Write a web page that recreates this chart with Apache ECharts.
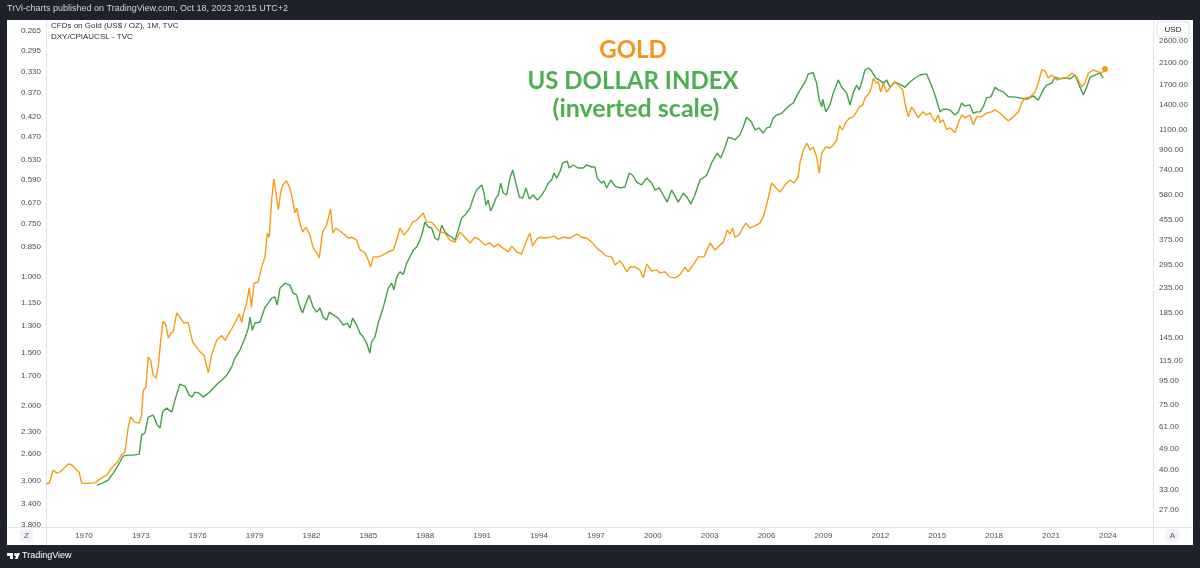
<!DOCTYPE html>
<html><head><meta charset="utf-8">
<script src="https://cdn.jsdelivr.net/npm/echarts@6/dist/echarts.min.js"></script>
<style>html,body{margin:0;padding:0;background:#1e222d;}#c{width:1200px;height:568px;}</style>
</head><body><div id="c"></div>
<script>
// ---- tick labels ----
const yearTicks = [1970,1973,1976,1979,1982,1985,1988,1991,1994,1997,2000,2003,2006,2009,2012,2015,2018,2021,2024];
const ratioTicks = [0.265,0.295,0.330,0.370,0.420,0.470,0.530,0.590,0.670,0.750,0.850,1.000,1.150,1.300,1.500,1.700,2.000,2.300,2.600,3.000,3.400,3.800];
const goldTicks = [2600,2100,1700,1400,1100,900,740,580,455,375,295,235,185,145,115,95,75,61,49,40,33,27];

// ---- Gold (USD/oz), [decimal year, price] ----
const goldSeries = [
[1968.00,35.0],[1968.17,35.0],[1968.38,39.9],[1968.56,38.7],[1968.73,39.1],[1968.91,40.3],[1969.17,42.3],[1969.35,42.0],[1969.62,39.9],[1969.75,39.1],
[1969.88,35.1],[1970.14,35.0],[1970.32,35.1],[1970.58,35.2],[1970.84,36.5],[1971.20,38.0],[1971.46,40.7],[1971.72,42.7],[1971.99,46.2],[1972.16,47.5],
[1972.34,60.6],[1972.46,66.8],[1972.69,63.6],[1972.92,63.0],[1973.04,68.1],[1973.13,86.8],[1973.27,89.4],[1973.39,120],[1973.52,116],[1973.65,100.5],
[1973.80,97.6],[1973.92,109],[1974.05,141],[1974.18,170],[1974.32,164],[1974.45,144],[1974.57,151],[1974.71,153],[1974.89,184],[1975.06,177],
[1975.27,167],[1975.50,168],[1975.73,139],[1975.94,132],[1976.12,126],[1976.33,122],[1976.56,103],[1976.73,122],[1977.00,141],[1977.26,148],
[1977.44,141],[1977.70,153],[1977.96,167],[1978.19,182],[1978.32,168],[1978.44,186],[1978.58,203],[1978.72,235],[1978.84,195],[1978.97,246],
[1979.19,249],[1979.37,288],[1979.55,318],[1979.67,401],[1979.77,385],[1979.90,553],[1980.02,679],[1980.13,592],[1980.25,502],[1980.37,592],
[1980.48,640],[1980.69,666],[1980.86,622],[1981.01,553],[1981.13,488],[1981.22,512],[1981.39,442],[1981.53,405],[1981.71,425],[1981.92,393],
[1982.09,347],[1982.27,331],[1982.41,315],[1982.59,405],[1982.80,434],[1983.01,507],[1983.12,401],[1983.29,421],[1983.50,409],[1983.77,393],
[1983.94,382],[1984.12,385],[1984.38,374],[1984.56,340],[1984.82,331],[1984.99,309],[1985.12,288],[1985.26,318],[1985.52,318],[1985.79,324],
[1986.05,334],[1986.31,340],[1986.49,374],[1986.67,421],[1986.88,393],[1987.10,413],[1987.34,446],[1987.55,455],[1987.89,488],[1988.07,446],
[1988.34,446],[1988.60,421],[1988.78,405],[1989.04,401],[1989.30,374],[1989.57,367],[1989.83,405],[1990.09,385],[1990.36,364],[1990.62,385],
[1990.89,374],[1991.15,357],[1991.41,364],[1991.62,350],[1991.83,360],[1992.08,347],[1992.38,334],[1992.56,353],[1992.82,334],[1993.08,327],
[1993.35,374],[1993.52,401],[1993.66,353],[1993.88,378],[1994.05,385],[1994.31,382],[1994.58,385],[1994.79,389],[1995.01,378],[1995.28,385],
[1995.63,382],[1995.99,397],[1996.25,385],[1996.51,382],[1996.78,367],[1997.04,347],[1997.30,334],[1997.53,321],[1997.83,318],[1998.01,294],
[1998.27,306],[1998.43,294],[1998.62,275],[1998.80,288],[1999.06,288],[1999.32,280],[1999.50,259],[1999.68,297],[1999.94,277],[2000.20,280],
[2000.38,272],[2000.64,275],[2000.91,261],[2001.17,259],[2001.43,267],[2001.70,288],[2001.87,275],[2002.13,294],[2002.40,318],[2002.70,318],
[2003.02,364],[2003.28,340],[2003.49,353],[2003.72,367],[2003.93,413],[2004.07,397],[2004.21,421],[2004.33,385],[2004.54,393],[2004.77,425],
[2004.91,442],[2005.12,421],[2005.39,430],[2005.65,442],[2005.83,469],[2006.09,564],[2006.27,653],[2006.50,622],[2006.71,598],[2006.97,640],
[2007.24,672],[2007.45,653],[2007.67,692],[2007.76,793],[2007.94,900],[2008.12,964],[2008.29,900],[2008.46,927],[2008.64,841],[2008.78,719],
[2008.91,875],[2009.13,927],[2009.34,918],[2009.52,945],[2009.70,992],[2009.84,1140],[2010.01,1097],[2010.19,1185],[2010.40,1231],[2010.57,1243],
[2010.75,1305],[2010.89,1369],[2011.07,1395],[2011.19,1494],[2011.42,1568],[2011.54,1663],[2011.63,1814],[2011.77,1729],[2011.89,1746],[2012.02,1584],
[2012.16,1729],[2012.33,1584],[2012.55,1663],[2012.72,1746],[2012.95,1695],[2013.18,1615],[2013.30,1423],[2013.47,1243],[2013.65,1369],[2013.83,1305],
[2014.00,1231],[2014.23,1305],[2014.44,1267],[2014.62,1291],[2014.88,1185],[2015.06,1267],[2015.15,1173],[2015.30,1208],[2015.50,1097],[2015.67,1118],
[2015.94,1065],[2016.11,1173],[2016.29,1267],[2016.46,1231],[2016.73,1267],[2016.90,1151],[2017.08,1243],[2017.34,1243],[2017.61,1291],[2017.87,1305],
[2018.05,1330],[2018.31,1291],[2018.57,1231],[2018.75,1196],[2019.01,1243],[2019.28,1305],[2019.45,1423],[2019.63,1494],[2019.89,1508],[2020.16,1584],
[2020.33,1729],[2020.51,1962],[2020.69,1944],[2020.86,1814],[2021.04,1868],[2021.30,1780],[2021.57,1814],[2021.83,1814],[2022.10,1905],[2022.36,1832],
[2022.62,1663],[2022.79,1729],[2022.97,1905],[2023.23,1962],[2023.50,1924],[2023.67,1905],[2023.85,1981]
];

// ---- DXY / CPIAUCSL ratio, [decimal year, ratio] (plotted on inverted scale) ----
const ratioSeries = [
[1970.70,3.071],[1971.00,3.035],[1971.28,2.989],[1971.55,2.878],[1971.81,2.757],[1972.07,2.626],[1972.32,2.612],[1972.60,2.612],[1972.92,2.598],[1973.04,2.345],
[1973.22,2.317],[1973.39,2.128],[1973.65,2.105],[1973.87,2.222],[1974.01,2.258],[1974.15,2.071],[1974.36,2.027],[1974.63,2.071],[1974.80,1.942],[1975.06,1.781],
[1975.33,1.800],[1975.55,1.890],[1975.70,1.910],[1975.85,1.859],[1976.07,1.870],[1976.29,1.910],[1976.56,1.870],[1976.82,1.820],[1977.08,1.771],[1977.28,1.741],
[1977.53,1.697],[1977.79,1.625],[1977.96,1.548],[1978.23,1.482],[1978.49,1.390],[1978.67,1.317],[1978.76,1.241],[1978.88,1.331],[1979.02,1.281],[1979.28,1.275],
[1979.55,1.176],[1979.72,1.150],[1979.90,1.120],[1980.07,1.113],[1980.19,1.163],[1980.34,1.061],[1980.60,1.033],[1980.86,1.044],[1981.04,1.090],[1981.22,1.102],
[1981.36,1.163],[1981.53,1.214],[1981.71,1.150],[1981.88,1.102],[1982.09,1.176],[1982.27,1.208],[1982.45,1.181],[1982.62,1.241],[1982.80,1.261],[1982.94,1.208],
[1983.15,1.226],[1983.41,1.247],[1983.68,1.295],[1983.89,1.281],[1984.03,1.317],[1984.17,1.247],[1984.38,1.295],[1984.56,1.353],[1984.73,1.381],[1984.91,1.428],
[1985.08,1.507],[1985.17,1.420],[1985.35,1.381],[1985.52,1.281],[1985.79,1.176],[1986.05,1.061],[1986.23,1.033],[1986.35,1.071],[1986.49,1.000],[1986.67,0.972],
[1986.84,0.986],[1987.02,0.927],[1987.19,0.897],[1987.37,0.864],[1987.55,0.850],[1987.72,0.819],[1987.86,0.784],[1987.98,0.743],[1988.16,0.763],[1988.34,0.767],
[1988.51,0.810],[1988.69,0.819],[1988.87,0.755],[1989.04,0.784],[1989.21,0.797],[1989.39,0.805],[1989.57,0.819],[1989.74,0.775],[1989.92,0.727],[1990.15,0.711],
[1990.36,0.689],[1990.53,0.653],[1990.71,0.625],[1990.98,0.608],[1991.10,0.635],[1991.20,0.678],[1991.32,0.660],[1991.45,0.700],[1991.59,0.678],[1991.73,0.653],
[1991.85,0.642],[1991.98,0.602],[1992.11,0.635],[1992.29,0.642],[1992.47,0.586],[1992.61,0.561],[1992.78,0.602],[1992.96,0.649],[1993.14,0.653],[1993.31,0.618],
[1993.49,0.656],[1993.70,0.642],[1993.91,0.660],[1994.14,0.642],[1994.31,0.625],[1994.49,0.602],[1994.67,0.592],[1994.79,0.570],[1994.93,0.586],[1995.10,0.567],
[1995.25,0.540],[1995.49,0.535],[1995.59,0.555],[1995.81,0.546],[1996.07,0.555],[1996.33,0.555],[1996.51,0.546],[1996.78,0.552],[1996.95,0.552],[1997.07,0.586],
[1997.30,0.602],[1997.42,0.595],[1997.57,0.618],[1997.78,0.592],[1998.01,0.612],[1998.27,0.618],[1998.53,0.615],[1998.76,0.570],[1998.94,0.577],[1999.15,0.599],
[1999.41,0.608],[1999.68,0.586],[1999.94,0.602],[2000.12,0.625],[2000.34,0.618],[2000.55,0.642],[2000.76,0.667],[2001.00,0.625],[2001.17,0.645],[2001.34,0.667],
[2001.61,0.635],[2001.80,0.649],[2002.01,0.674],[2002.22,0.642],[2002.49,0.592],[2002.84,0.577],[2003.10,0.540],[2003.40,0.512],[2003.58,0.526],[2003.81,0.496],
[2003.98,0.470],[2004.16,0.472],[2004.33,0.477],[2004.60,0.464],[2004.77,0.445],[2004.95,0.422],[2005.21,0.433],[2005.39,0.452],[2005.60,0.447],[2005.83,0.460],
[2006.01,0.447],[2006.18,0.445],[2006.35,0.424],[2006.53,0.417],[2006.80,0.413],[2007.06,0.402],[2007.23,0.395],[2007.41,0.391],[2007.62,0.374],[2007.85,0.359],
[2008.03,0.349],[2008.20,0.334],[2008.46,0.332],[2008.64,0.351],[2008.78,0.385],[2008.91,0.399],[2008.96,0.383],[2009.13,0.410],[2009.34,0.395],[2009.52,0.370],
[2009.78,0.345],[2009.96,0.359],[2010.22,0.370],[2010.40,0.395],[2010.57,0.370],[2010.75,0.355],[2010.89,0.364],[2011.02,0.349],[2011.19,0.327],[2011.37,0.3235],
[2011.54,0.329],[2011.66,0.336],[2011.77,0.3415],[2011.94,0.345],[2012.16,0.351],[2012.33,0.345],[2012.51,0.359],[2012.77,0.349],[2013.03,0.353],[2013.30,0.359],
[2013.56,0.349],[2013.83,0.3415],[2014.09,0.336],[2014.44,0.334],[2014.62,0.349],[2014.79,0.364],[2014.97,0.385],[2015.15,0.410],[2015.30,0.404],[2015.50,0.404],
[2015.67,0.406],[2015.94,0.417],[2016.11,0.410],[2016.29,0.391],[2016.46,0.397],[2016.73,0.395],[2016.90,0.413],[2017.10,0.410],[2017.26,0.410],[2017.43,0.399],
[2017.61,0.380],[2017.83,0.378],[2018.05,0.359],[2018.22,0.364],[2018.49,0.368],[2018.75,0.378],[2019.01,0.378],[2019.36,0.380],[2019.72,0.383],[2020.07,0.376],
[2020.33,0.385],[2020.59,0.364],[2020.77,0.355],[2021.04,0.351],[2021.21,0.340],[2021.47,0.343],[2021.74,0.3415],[2022.00,0.343],[2022.27,0.336],[2022.49,0.355],
[2022.70,0.374],[2022.88,0.359],[2023.06,0.340],[2023.32,0.336],[2023.58,0.332],[2023.76,0.3415]
];

const GOLD_COLOR = '#f59d16';
const DXY_COLOR = '#43a047';
const AXIS_TEXT = '#4a4e59';
const SEP = '#e0e3eb';
const FONT = 'Liberation Sans, Arial, sans-serif';

const chart = echarts.init(document.getElementById('c'), null, {renderer: 'canvas'});
const lastGold = goldSeries[goldSeries.length - 1];

chart.setOption({
  animation: false,
  backgroundColor: '#1e222d',
  grid: {left: 46, right: 47, top: 20, bottom: 41, containLabel: false},
  xAxis: {
    type: 'value', min: 1968.0, max: 2026.38,
    splitLine: {show: false}, axisLine: {show: false}, axisTick: {show: false},
    axisLabel: {customValues: yearTicks, formatter: v => String(Math.round(v)),
      color: AXIS_TEXT, fontSize: 8, fontFamily: FONT, margin: 5}
  },
  yAxis: [
    {
      type: 'log', logBase: 10, inverse: true, position: 'left',
      min: 0.2497, max: 3.85,
      splitLine: {show: false}, axisLine: {show: false}, axisTick: {show: false},
      axisLabel: {customValues: ratioTicks, formatter: v => Number(v).toFixed(3),
        color: AXIS_TEXT, fontSize: 8, fontFamily: FONT, margin: 5}
    },
    {
      type: 'log', logBase: 10, position: 'right',
      min: 22.9, max: 3193,
      splitLine: {show: false}, axisLine: {show: false}, axisTick: {show: false},
      axisLabel: {customValues: goldTicks, formatter: v => Number(v).toFixed(2),
        color: AXIS_TEXT, fontSize: 8, fontFamily: FONT, margin: 6}
    }
  ],
  series: [
    {
      name: 'DXY/CPIAUCSL', type: 'line', yAxisIndex: 0, data: ratioSeries,
      showSymbol: false, lineStyle: {color: DXY_COLOR, width: 1.4}, itemStyle: {color: DXY_COLOR},
      z: 3
    },
    {
      name: 'Gold', type: 'line', yAxisIndex: 1, data: goldSeries,
      showSymbol: false, lineStyle: {color: GOLD_COLOR, width: 1.4}, itemStyle: {color: GOLD_COLOR},
      z: 4,
      markPoint: {symbol: 'circle', symbolSize: 6, label: {show: false},
        itemStyle: {color: GOLD_COLOR}, data: [{coord: lastGold}]}
    }
  ],
  graphic: [
    {type: 'rect', z: -10, shape: {x: 7, y: 20, width: 1186, height: 525}, style: {fill: '#ffffff'}, silent: true},
    {type: 'line', z: 1, shape: {x1: 46.5, y1: 20, x2: 46.5, y2: 545}, style: {stroke: SEP, lineWidth: 1}},
    {type: 'line', z: 1, shape: {x1: 1153.5, y1: 20, x2: 1153.5, y2: 545}, style: {stroke: SEP, lineWidth: 1}},
    {type: 'line', z: 1, shape: {x1: 7, y1: 527.5, x2: 1193, y2: 527.5}, style: {stroke: SEP, lineWidth: 1}},
    {type: 'text', z: 10, left: 7, top: 4, style: {text: 'TrVi-charts published on TradingView.com, Oct 18, 2023 20:15 UTC+2',
      fill: '#d1d4dc', fontSize: 9, fontFamily: FONT}},
    {type: 'text', z: 10, left: 51, top: 22, style: {text: 'CFDs on Gold (US$ / OZ), 1M, TVC', fill: '#2a2e39', fontSize: 8, fontFamily: FONT}},
    {type: 'text', z: 10, left: 51, top: 33, style: {text: 'DXY/CPIAUCSL - TVC', fill: '#2a2e39', fontSize: 8, fontFamily: FONT}},
    {type: 'text', z: 10, x: 633, y: 50, style: {text: 'GOLD', fill: '#f7941d', fontSize: 24, fontWeight: 'bold', fontFamily: 'Lato, sans-serif', align: 'center', verticalAlign: 'middle'}},
    {type: 'text', z: 10, x: 633, y: 81, style: {text: 'US DOLLAR INDEX', fill: '#4caf50', fontSize: 24, fontWeight: 'bold', fontFamily: 'Lato, sans-serif', align: 'center', verticalAlign: 'middle'}},
    {type: 'text', z: 10, x: 636, y: 109, style: {text: '(inverted scale)', fill: '#4caf50', fontSize: 25, fontWeight: 'bold', fontFamily: 'Lato, sans-serif', align: 'center', verticalAlign: 'middle'}},
    {type: 'rect', z: 10, shape: {x: 1157, y: 22, width: 32, height: 15, r: 3}, style: {fill: '#ffffff', stroke: SEP, lineWidth: 1}},
    {type: 'text', z: 11, x: 1173, y: 29.5, style: {text: 'USD', fill: '#131722', fontSize: 8, fontFamily: FONT, align: 'center', verticalAlign: 'middle'}},
    {type: 'rect', z: 10, shape: {x: 20, y: 529, width: 13, height: 13, r: 3}, style: {fill: '#f0f3fa'}},
    {type: 'text', z: 11, x: 26.5, y: 535.5, style: {text: 'Z', fill: '#50535e', fontSize: 8, fontFamily: FONT, align: 'center', verticalAlign: 'middle'}},
    {type: 'rect', z: 10, shape: {x: 1166, y: 529, width: 13, height: 13, r: 3}, style: {fill: '#f0f3fa'}},
    {type: 'text', z: 11, x: 1172.5, y: 535.5, style: {text: 'A', fill: '#50535e', fontSize: 8, fontFamily: FONT, align: 'center', verticalAlign: 'middle'}},
    {type: 'rect', z: 10, shape: {x: 7, y: 553, width: 6, height: 3}, style: {fill: '#ffffff'}},
    {type: 'rect', z: 10, shape: {x: 10, y: 553, width: 3, height: 6}, style: {fill: '#ffffff'}},
    {type: 'circle', z: 10, shape: {cx: 15.5, cy: 554.5, r: 1.5}, style: {fill: '#ffffff'}},
    {type: 'polygon', z: 10, shape: {points: [[15, 559], [17, 553], [20, 553], [17.5, 559]]}, style: {fill: '#ffffff'}},
    {type: 'text', z: 10, left: 22, top: 551, style: {text: 'TradingView', fill: '#ffffff', fontSize: 9, fontFamily: FONT}}
  ]
});
</script>
</body></html>
